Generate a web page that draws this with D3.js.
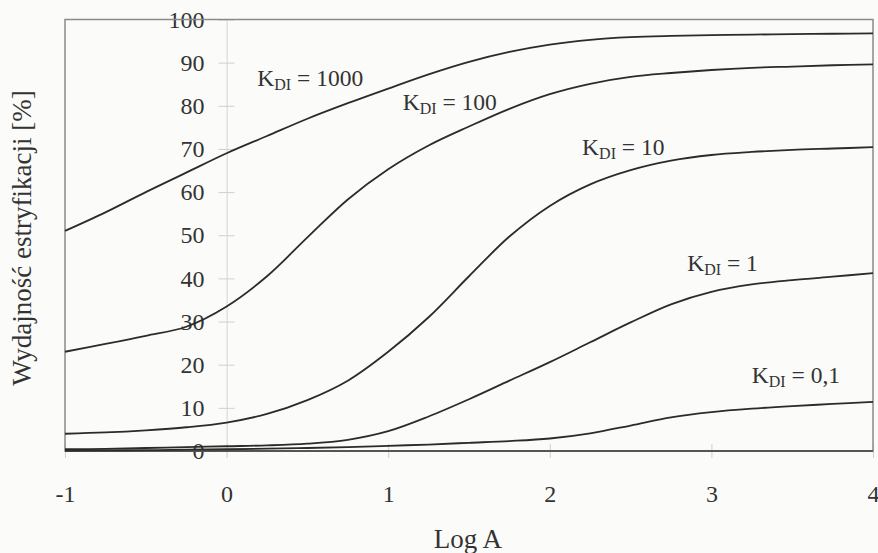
<!DOCTYPE html>
<html>
<head>
<meta charset="utf-8">
<script src="https://cdn.jsdelivr.net/npm/d3@7"></script>
<style>
  html, body { margin: 0; padding: 0; background: #fbfbf9; }
  svg { display: block; }
  text { font-family: "Liberation Serif", "DejaVu Serif", serif; fill: #333; }
</style>
</head>
<body>
<svg id="chart" width="878" height="553"></svg>
<script>
// ---- data ----
const logA = [-1, -0.75, -0.5, -0.25, 0, 0.25, 0.5, 0.75, 1, 1.25, 1.5, 1.75, 2, 2.25, 2.5, 2.75, 3, 3.25, 3.5, 3.75, 4];
const kdi1000 = [51, 55.3, 60, 64.5, 69, 73, 77, 80.6, 84, 87.3, 90.2, 92.5, 94.2, 95.3, 95.9, 96.2, 96.4, 96.5, 96.6, 96.7, 96.8];
const kdi100  = [23, 24.8, 26.7, 28.8, 33.5, 40.5, 49.5, 58.3, 65.3, 70.8, 75.2, 79.3, 82.7, 85.1, 86.7, 87.6, 88.3, 88.8, 89.1, 89.4, 89.6];
const kdi10   = [4, 4.3, 4.8, 5.5, 6.6, 8.6, 11.8, 16.3, 23, 31, 40.5, 49.7, 56.8, 61.8, 65.1, 67.3, 68.6, 69.3, 69.8, 70.1, 70.4];
const kdi1    = [0.4, 0.5, 0.7, 0.9, 1.1, 1.3, 1.7, 2.6, 4.6, 8.0, 12.0, 16.3, 20.6, 25.2, 29.8, 34.0, 36.9, 38.6, 39.6, 40.4, 41.2];
const kdi01   = [0.1, 0.15, 0.2, 0.3, 0.4, 0.55, 0.7, 0.9, 1.2, 1.5, 1.9, 2.3, 2.9, 4.1, 5.9, 7.8, 9.0, 9.8, 10.4, 10.9, 11.4];
const seriesNames = ["1000", "100", "10", "1", "0,1"];
const seriesValues = [kdi1000, kdi100, kdi10, kdi1, kdi01];
// label anchor points (in data units) for each curve label
const labelX = [0.19, 1.09, 2.2, 2.85, 3.25];
const labelY = [84.5, 79, 68.5, 41.8, 15.8];
const xTicks = [-1, 0, 1, 2, 3, 4];
const yTicks = [0, 10, 20, 30, 40, 50, 60, 70, 80, 90, 100];
const xTitle = "Log A";
const yTitle = "Wydajność estryfikacji [%]";

// ---- layout ----
const W = 878, H = 553;
const m = { left: 65, right: 5, top: 19.5, bottom: 102 };
const svg = d3.select("#chart");
const x = d3.scaleLinear().domain([-1, 4]).range([m.left, W - m.right]);
const y = d3.scaleLinear().domain([0, 100]).range([H - m.bottom, m.top]);

// y axis positioned at Log A = 0 (faint)
const yAxis = d3.axisLeft(y).tickValues(yTicks).tickSize(0).tickPadding(22);
const gy = svg.append("g").attr("transform", `translate(${x(0)},0)`).call(yAxis);
gy.select(".domain").attr("stroke", "#d4d4d4").attr("stroke-width", 1);
gy.selectAll(".tick text").attr("font-size", 24).attr("fill", "#333")
  .style("font-family", "'Liberation Serif', serif");
gy.selectAll(".tick").append("line")
  .attr("x1", -8).attr("x2", 8).attr("stroke", "#d0d0d0").attr("stroke-width", 1);

// x axis at bottom (faint ticks crossing the frame)
const gx = svg.append("g").attr("transform", `translate(0,${y(0)})`)
  .call(d3.axisBottom(x).tickValues(xTicks).tickSize(0).tickPadding(34).tickFormat(d => String(d)));
gx.select(".domain").remove();
gx.selectAll(".tick text").attr("font-size", 24).attr("fill", "#333")
  .style("font-family", "'Liberation Serif', serif");
gx.selectAll(".tick").append("line")
  .attr("y1", -7).attr("y2", 7).attr("stroke", "#cfcfcf").attr("stroke-width", 1);

// frame
svg.append("rect")
  .attr("x", x(-1)).attr("y", y(100))
  .attr("width", x(4) - x(-1)).attr("height", y(0) - y(100))
  .attr("fill", "none").attr("stroke", "#8a8a8a").attr("stroke-width", 1.5);
svg.append("line")
  .attr("x1", x(-1)).attr("x2", x(4)).attr("y1", y(0)).attr("y2", y(0))
  .attr("stroke", "#555").attr("stroke-width", 2);

// curves
const line = d3.line().x((d, i) => x(logA[i])).y(d => y(d)).curve(d3.curveCatmullRom.alpha(0.5));
svg.append("g").selectAll("path").data(seriesValues).join("path")
  .attr("d", d => line(d))
  .attr("fill", "none").attr("stroke", "#2b2b2b").attr("stroke-width", 1.8);

// curve labels
seriesNames.forEach((name, i) => {
  const t = svg.append("text")
    .attr("x", x(labelX[i])).attr("y", y(labelY[i]))
    .attr("font-size", 23.5).attr("fill", "#333");
  t.append("tspan").text("K");
  t.append("tspan").text("DI").attr("font-size", 16).attr("dy", 4);
  t.append("tspan").text(" = " + name).attr("dy", -4);
});

// axis titles
svg.append("text")
  .attr("x", 468).attr("y", 548)
  .attr("text-anchor", "middle").attr("font-size", 27).text(xTitle);
svg.append("text")
  .attr("transform", `translate(31,${238}) rotate(-90)`)
  .attr("text-anchor", "middle").attr("font-size", 27).text(yTitle);
</script>
</body>
</html>
